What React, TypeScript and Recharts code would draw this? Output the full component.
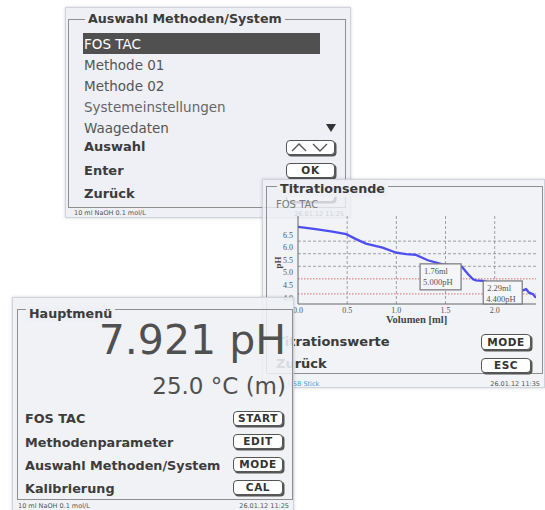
import React from 'react';
import { LineChart, Line, XAxis, YAxis, ReferenceLine, ReferenceDot } from 'recharts';

// ---- data ----
const volumes = [0.0, 0.18, 0.35, 0.49, 0.59, 0.69, 0.86, 1.0, 1.1, 1.2, 1.32, 1.47, 1.58, 1.66, 1.73, 1.78, 1.81, 1.88, 2.27, 2.32, 2.35, 2.39, 2.42];
const phValues = [7.07, 6.98, 6.88, 6.78, 6.58, 6.4, 6.24, 6.04, 5.98, 5.95, 5.74, 5.58, 5.53, 5.51, 5.18, 4.98, 4.94, 4.92, 4.52, 4.59, 4.45, 4.39, 4.25];
const xTicks = [0.0, 0.5, 1.0, 1.5, 2.0];
const yTicks = [4.0, 4.5, 5.0, 5.5, 6.0, 6.5];
const gridPh = [5.5, 6.0, 6.5];
const limitPh = [5.0, 4.4];
const endVolumes = [1.76, 2.29];
const endPhs = [5.0, 4.4];
const endLabelsVol = ['1.76ml', '2.29ml'];
const endLabelsPh = ['5.000pH', '4.400pH'];

const topMenuItems = ['Methode 01', 'Methode 02', 'Systemeinstellungen', 'Waagedaten'];
const topActions = ['Auswahl', 'Enter', 'Zurück'];
const mainRows = ['FOS TAC', 'Methodenparameter', 'Auswahl Methoden/System', 'Kalibrierung'];
const mainButtons = ['START', 'EDIT', 'MODE', 'CAL'];

const curve = volumes.map((v, i) => ({ vol: v, ph: phValues[i] }));

// ---- styles ----
const FONT = '"DejaVu Sans", Verdana, sans-serif';
const SERIF = '"Liberation Serif", "DejaVu Serif", serif';
const PANEL_BG = '#eef0f5';
const FRAME = '#8e8e8e';
const boxOffsets = [
  { dx: -51, dy: -15, w: 41, h: 26 },
  { dx: -40, dy: -13, w: 39, h: 23 },
];

const T = ({ x, cy, size, bold, color, children, right, family, style }: any) => (
  <div
    style={{
      position: 'absolute',
      left: right === undefined ? x : undefined,
      right,
      top: cy - size * 0.6,
      fontSize: size,
      lineHeight: `${size * 1.2}px`,
      fontWeight: bold ? 'bold' : 'normal',
      color: color || '#444',
      whiteSpace: 'nowrap',
      fontFamily: family || FONT,
      ...style,
    }}
  >
    {children}
  </div>
);

const Btn = ({ x, y, w, h, label, children }: any) => (
  <div
    style={{
      position: 'absolute',
      left: x,
      top: y,
      width: w,
      height: h,
      boxSizing: 'border-box',
      background: '#fff',
      border: '1.3px solid #555',
      borderRadius: 4,
      boxShadow: '1.5px 1.5px 0 #555',
      fontFamily: FONT,
      fontWeight: 'bold',
      fontSize: 10.5,
      letterSpacing: 0.6,
      color: '#333',
      display: 'flex',
      alignItems: 'center',
      justifyContent: 'center',
      lineHeight: '1',
    }}
  >
    {children || label}
  </div>
);

const Frame = ({ x, y, w, h }: any) => (
  <div style={{ position: 'absolute', left: x, top: y, width: w, height: h, boxSizing: 'border-box', border: `1px solid ${FRAME}` }} />
);

const YTick = (props: any) => {
  const { x, y, payload } = props;
  return (
    <text x={x} y={y - 6} textAnchor="end" dominantBaseline="central" fontSize={8} fontFamily={SERIF} fill="#555">
      {Number(payload.value).toFixed(1)}
    </text>
  );
};

const makeEndBox = (i: number) => (props: any) => {
  const { cx, cy } = props;
  const o = boxOffsets[i];
  const x = cx + o.dx;
  const y = cy + o.dy;
  return (
    <g>
      <rect x={x} y={y} width={o.w} height={o.h} fill="#f5f6fa" stroke="#777" strokeWidth={1.2} />
      <text x={x + 4} y={y + 7.5} fontSize={8.5} fontFamily={SERIF} fill="#555" dominantBaseline="central">
        {endLabelsVol[i]}
      </text>
      <text x={x + 3} y={y + 18.5} fontSize={8.5} fontFamily={SERIF} fill="#555" dominantBaseline="central">
        {endLabelsPh[i]}
      </text>
    </g>
  );
};

const Panel = ({ x, y, w, h, bg, children }: any) => (
  <div
    style={{
      position: 'absolute',
      left: x,
      top: y,
      width: w,
      height: h,
      background: bg,
      border: '1px solid #cfd3dc',
      boxSizing: 'border-box',
      boxShadow: '0 0 3px rgba(0,0,0,0.18)',
      overflow: 'hidden',
    }}
  >
    {children}
  </div>
);

export default function App() {
  return (
    <div style={{ position: 'absolute', left: 0, top: 0, width: 545, height: 510, background: '#fff', overflow: 'hidden', fontFamily: FONT }}>
      {/* Top panel: Auswahl Methoden/System */}
      <Panel x={65} y={7} w={286} h={211} bg={PANEL_BG}>
        <Frame x={2} y={11} w={278} h={189} />
        <T x={19} cy={11} size={12.7} bold color="#3c3c3c" style={{ background: PANEL_BG, padding: '0 3px' }}>
          Auswahl Methoden/System
        </T>
        <div style={{ position: 'absolute', left: 17, top: 25, width: 237, height: 21, background: '#505050' }} />
        <T x={18} cy={36} size={13.5} color="#fff">FOS TAC</T>
        {topMenuItems.map((s, i) => (
          <T key={s} x={18} cy={57 + i * 21} size={13.5} color={i === 2 ? '#666' : '#555'}>{s}</T>
        ))}
        <div style={{ position: 'absolute', left: 260, top: 116, width: 0, height: 0, borderLeft: '5px solid transparent', borderRight: '5px solid transparent', borderTop: '8px solid #333' }} />
        {topActions.map((s, i) => (
          <T key={s} x={18} cy={139 + i * 23.5} size={13} bold color="#3c3c3c">{s}</T>
        ))}
        <Btn x={220} y={132} w={49} h={15}>
          <svg width={46} height={13}>
            <polyline points="4,10 11,3 18,10" fill="none" stroke="#555" strokeWidth={1.4} />
            <polyline points="25,3 32,10 39,3" fill="none" stroke="#555" strokeWidth={1.4} />
          </svg>
        </Btn>
        <Btn x={220} y={155} w={49} h={15} label="OK" />
        <Btn x={220} y={179} w={49} h={15} label="" />
        <T x={8} cy={206} size={6.5} color="#555">10 ml NaOH 0.1 mol/L</T>
        <T right={6} cy={207} size={6.5} color="#555">26.01.12 11:25</T>
      </Panel>

      {/* Right panel: Titrationsende */}
      <Panel x={262} y={179} w={283} h={209} bg="rgba(238,240,245,0.8)">
        <Frame x={3} y={6} w={277} h={188} />
        <T x={14} cy={9} size={12.7} bold color="#3a3a3a" style={{ background: PANEL_BG, padding: '0 3px' }}>
          Titrationsende
        </T>
        <T x={13} cy={25} size={10} color="#7a7a7a">FOS TAC</T>
        <div style={{ position: 'absolute', left: 0, top: 26 }}>
          <LineChart width={283} height={130} data={curve} margin={{ top: 10, right: 10, left: 0, bottom: 0 }}>
            <XAxis
              dataKey="vol"
              type="number"
              domain={[0, 2.42]}
              ticks={xTicks}
              interval={0}
              allowDataOverflow
              tickFormatter={(v: number) => v.toFixed(1)}
              tick={{ fontSize: 8, fontFamily: SERIF, fill: '#555' }}
              tickLine={false}
              tickSize={0}
              tickMargin={3}
              axisLine={{ stroke: '#666', strokeWidth: 1 }}
              height={32}
            />
            <YAxis
              type="number"
              domain={[4, 7.5]}
              ticks={yTicks}
              interval={0}
              allowDataOverflow
              tick={<YTick />}
              tickLine={false}
              tickSize={0}
              tickMargin={5}
              axisLine={{ stroke: '#666', strokeWidth: 1 }}
              width={35}
            />
            {xTicks.slice(1).map((v) => (
              <ReferenceLine key={'vx' + v} x={v} stroke="#8a8a8a" strokeDasharray="3 2" strokeWidth={0.8} />
            ))}
            {gridPh.map((v) => (
              <ReferenceLine key={'gy' + v} y={v} stroke="#8a8a8a" strokeDasharray="3 2" strokeWidth={0.8} />
            ))}
            {limitPh.map((v) => (
              <ReferenceLine key={'ly' + v} y={v} stroke="#e06a6a" strokeDasharray="1.5 1.5" strokeWidth={1} />
            ))}
            <Line type="linear" dataKey="ph" stroke="#4d4df0" strokeWidth={2.3} dot={false} isAnimationActive={false} />
            {endVolumes.map((v, i) => (
              <ReferenceDot key={'e' + i} x={v} y={endPhs[i]} r={2} ifOverflow="visible" shape={makeEndBox(i)} />
            ))}
          </LineChart>
        </div>
        <T x={9} cy={82} size={9} bold family={SERIF} color="#444" style={{ transform: 'rotate(-90deg)', transformOrigin: 'center' }}>
          pH
        </T>
        <T x={123} cy={140} size={10.5} bold family={SERIF} color="#444">Volumen [ml]</T>
        <T x={13} cy={162} size={13} bold color="#3a3a3a">Titrationswerte</T>
        <T x={13} cy={184} size={13} bold color="#3a3a3a">Zurück</T>
        <Btn x={218} y={154} w={50} h={16} label="MODE" />
        <Btn x={218} y={178} w={50} h={15} label="ESC" />
        <T x={25} cy={205} size={6.5} color="#4a9de0">USB Stick</T>
        <T right={4} cy={205} size={6.5} color="#555">26.01.12 11:35</T>
      </Panel>

      {/* Left panel: Hauptmenü */}
      <Panel x={12} y={297} w={282} h={214} bg="rgba(238,240,245,0.88)">
        <Frame x={4} y={11} w={276} h={191} />
        <T x={13} cy={16} size={12.7} bold color="#3c3c3c" style={{ background: PANEL_BG, padding: '0 3px' }}>
          Hauptmenü
        </T>
        <T right={7} cy={43} size={41} color="#505050">7.921 pH</T>
        <T right={7} cy={89} size={23} color="#505050">25.0 °C (m)</T>
        {mainRows.map((s, i) => (
          <T key={s} x={12} cy={121 + i * 23.2} size={12.8} bold color="#3c3c3c">{s}</T>
        ))}
        {mainButtons.map((s, i) => (
          <Btn key={s} x={220} y={113 + i * 23} w={50} h={15} label={s} />
        ))}
        <T x={5} cy={209} size={6.5} color="#555">10 ml NaOH 0.1 mol/L</T>
        <T right={4} cy={209} size={6.5} color="#555">26.01.12 11:25</T>
      </Panel>
    </div>
  );
}
